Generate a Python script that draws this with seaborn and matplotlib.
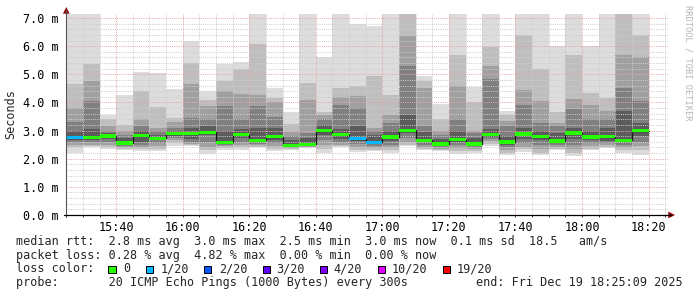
import numpy as np
import pandas as pd
import matplotlib
matplotlib.use("Agg")
import matplotlib.pyplot as plt
import matplotlib.dates as mdates
from matplotlib.patches import Polygon, Rectangle
from matplotlib.lines import Line2D
from matplotlib.ticker import FixedLocator, MultipleLocator
import seaborn as sns

# ---------------- data ----------------
bar_start = pd.date_range("2025-12-19 15:25", "2025-12-19 18:15", freq="5min")

rtt_max = [7.14, 7.14, 3.55, 4.25, 5.08, 5.05, 4.47, 6.20, 4.42, 5.38, 5.45, 7.14, 4.50, 3.65, 7.14, 5.60, 7.14, 6.80, 6.72, 7.14,
           7.14, 4.93, 3.95, 7.14, 4.56, 7.14, 3.70, 7.14, 7.14, 6.00, 7.14, 6.00, 7.14, 7.14, 7.14]
rtt_hi1 = [4.65, 5.35, 3.40, 3.20, 4.42, 3.83, 3.45, 5.42, 4.10, 4.75, 5.20, 6.08, 4.15, 3.22, 4.70, 3.65, 4.52, 4.60, 4.95, 4.25,
           7.14, 4.78, 3.40, 5.70, 4.00, 5.96, 3.55, 6.40, 5.20, 3.65, 5.70, 4.33, 4.17, 7.14, 6.40]
rtt_hi2 = [3.80, 4.75, 3.15, 3.00, 3.40, 3.10, 3.30, 4.65, 3.87, 4.40, 4.30, 4.25, 4.00, 2.95, 4.10, 3.55, 4.20, 4.23, 3.10, 3.57,
           6.35, 4.50, 3.00, 4.60, 3.00, 5.30, 3.35, 4.46, 4.05, 3.27, 4.13, 3.90, 3.70, 5.70, 5.60]
rtt_hi3 = [3.30, 4.05, 3.00, 2.85, 3.18, 3.00, 3.10, 3.45, 3.40, 3.87, 3.40, 3.87, 3.50, 2.80, 2.90, 3.40, 3.90, 3.80, 2.98, 3.27,
           5.30, 3.15, 2.85, 3.40, 2.90, 4.82, 3.15, 3.90, 3.27, 3.15, 3.75, 3.40, 3.40, 4.50, 4.05]
rtt_hi4 = [3.00, 3.05, 2.90, 2.75, 3.00, 2.85, 3.00, 3.10, 3.15, 3.00, 3.05, 3.10, 3.10, 2.65, 2.75, 3.20, 3.05, 3.15, 2.85, 3.00,
           3.55, 2.95, 2.70, 3.00, 2.75, 3.05, 2.80, 3.10, 3.00, 2.90, 3.10, 3.00, 3.10, 3.70, 3.27]
rtt_median = [2.75, 2.76, 2.81, 2.56, 2.83, 2.72, 2.89, 2.89, 2.94, 2.58, 2.85, 2.66, 2.79, 2.48, 2.51, 2.99, 2.86, 2.71, 2.58, 2.77,
              3.01, 2.66, 2.52, 2.67, 2.52, 2.86, 2.59, 2.88, 2.79, 2.63, 2.91, 2.77, 2.79, 2.65, 3.00]
rtt_lo4 = [2.68, 2.68, 2.70, 2.50, 2.60, 2.65, 2.82, 2.70, 2.85, 2.52, 2.72, 2.60, 2.65, 2.45, 2.48, 2.85, 2.70, 2.62, 2.52, 2.62,
           2.90, 2.58, 2.48, 2.60, 2.48, 2.78, 2.50, 2.70, 2.65, 2.55, 2.70, 2.65, 2.62, 2.60, 2.80]
rtt_lo3 = [2.60, 2.60, 2.60, 2.45, 2.50, 2.55, 2.75, 2.60, 2.60, 2.48, 2.60, 2.53, 2.55, 2.42, 2.45, 2.65, 2.58, 2.52, 2.45, 2.50,
           2.75, 2.50, 2.42, 2.48, 2.42, 2.70, 2.40, 2.55, 2.50, 2.48, 2.50, 2.55, 2.55, 2.50, 2.60]
rtt_lo2 = [2.50, 2.50, 2.50, 2.40, 2.40, 2.45, 2.65, 2.52, 2.40, 2.44, 2.50, 2.48, 2.45, 2.38, 2.42, 2.50, 2.50, 2.42, 2.38, 2.40,
           2.60, 2.42, 2.36, 2.38, 2.35, 2.62, 2.30, 2.42, 2.35, 2.40, 2.35, 2.45, 2.48, 2.40, 2.45]
rtt_lo1 = [2.40, 2.45, 2.42, 2.35, 2.33, 2.35, 2.55, 2.48, 2.30, 2.38, 2.40, 2.43, 2.35, 2.35, 2.40, 2.35, 2.46, 2.32, 2.32, 2.30,
           2.50, 2.35, 2.30, 2.28, 2.28, 2.52, 2.20, 2.33, 2.22, 2.34, 2.20, 2.36, 2.42, 2.30, 2.30]
rtt_min = [2.20, 2.40, 2.35, 2.30, 2.26, 2.27, 2.45, 2.44, 2.18, 2.32, 2.30, 2.40, 2.27, 2.32, 2.38, 2.20, 2.42, 2.25, 2.28, 2.22,
           2.44, 2.30, 2.26, 2.18, 2.22, 2.44, 2.12, 2.25, 2.12, 2.30, 2.10, 2.30, 2.38, 2.22, 2.15]
loss_count = [1, 0, 0, 0, 0, 0, 0, 0, 0, 0, 0, 0, 0, 0, 0, 0, 0, 1, 1, 0,
              0, 0, 0, 0, 0, 0, 0, 0, 0, 0, 0, 0, 0, 0, 0]

loss_steps = [0, 1, 2, 3, 4, 10, 19]
loss_labels = ["0", "1/20", "2/20", "3/20", "4/20", "10/20", "19/20"]
loss_colors = ["#26ff00", "#00b8ff", "#0059ff", "#5e00ff", "#7e00ff", "#dd00ff", "#ff0000"]

ytick_vals = [0, 1, 2, 3, 4, 5, 6, 7]
ytick_labels = ["0.0 m", "1.0 m", "2.0 m", "3.0 m", "4.0 m", "5.0 m", "6.0 m", "7.0 m"]

legend_rtt = "median rtt:  2.8 ms avg  3.0 ms max  2.5 ms min  3.0 ms now  0.1 ms sd  18.5   am/s"
legend_loss = "packet loss: 0.28 % avg  4.82 % max  0.00 % min  0.00 % now"
legend_color = "loss color:"
legend_probe = "probe:       20 ICMP Echo Pings (1000 Bytes) every 300s"
legend_end = "end: Fri Dec 19 18:25:09 2025"
watermark = "RRDTOOL / TOBI OETIKER"

# ---------------- style ----------------
sns.set_theme(style="white")
plt.rcParams["font.family"] = ["DejaVu Sans Mono", "DejaVu Sans"]
FS = 8.45

W, H = 697, 297
fig = plt.figure(figsize=(W / 100, H / 100), dpi=100)
fig.patch.set_facecolor("white")

def fx(px):
    return px / W

def fy(py):
    return 1 - py / H

X0, X1, Y0, Y1 = 66.3, 667.8, 215.0, 14.4
ax = fig.add_axes([fx(X0), fy(Y0), (X1 - X0) / W, (Y0 - Y1) / H])
ax.set_facecolor("white")

t = mdates.date2num(bar_start.to_pydatetime())
bw = 5 / 1440.0

bands = [
    (rtt_min, rtt_max, "#dcdcdc"),
    (rtt_lo1, rtt_hi1, "#bebebe"),
    (rtt_lo2, rtt_hi2, "#a0a0a0"),
    (rtt_lo3, rtt_hi3, "#808080"),
    (rtt_lo4, rtt_hi4, "#5c5c5c"),
]
for lo, hi, col in bands:
    lo = np.asarray(lo)
    hi = np.asarray(hi)
    ax.bar(t, hi - lo, bottom=lo, width=bw, align="edge", color=col,
           linewidth=0, zorder=1)

# median step line
med = np.asarray(rtt_median)
xs = np.r_[t, t[-1] + bw]
ys = np.r_[med, med[-1]]
sns.lineplot(x=xs, y=ys, drawstyle="steps-post", color="#1a1a1a", lw=0.9,
             ax=ax, zorder=3, estimator=None, sort=False)

# median coloured by loss
cmap = dict(zip(loss_steps, loss_colors))
mcols = [cmap[c] for c in loss_count]
ax.bar(t, 0.115, bottom=med - 0.057, width=bw, align="edge", color=mcols,
       linewidth=0, zorder=4)

# axes limits / ticks
start = mdates.date2num(pd.Timestamp("2025-12-19 15:25").to_pydatetime())
ax.set_xlim(start, start + 180.8 / 1440)
ax.set_ylim(0, 7.13)
ax.yaxis.set_major_locator(FixedLocator(ytick_vals))
ax.set_yticklabels(ytick_labels)
ax.yaxis.set_minor_locator(MultipleLocator(0.2))
ax.xaxis.set_major_locator(mdates.MinuteLocator(byminute=[0, 20, 40]))
ax.xaxis.set_minor_locator(mdates.MinuteLocator(byminute=range(0, 60, 5)))
ax.xaxis.set_major_formatter(mdates.DateFormatter("%H:%M"))
ax.set_xlabel("")
ax.set_ylabel("")

ax.set_axisbelow(False)
ax.grid(which="major", color="#e8a8a8", linestyle=(0, (1, 1.2)), linewidth=0.72)
ax.grid(which="minor", color="#cdcdcd", linestyle=(0, (1, 1.2)), linewidth=0.72)

ax.tick_params(axis="y", which="both", length=0, pad=5.2, labelsize=FS, colors="#000000")
ax.tick_params(axis="x", which="both", length=1.6, width=0.72, color="#404040",
               pad=2.5, labelsize=FS, labelcolor="#000000", bottom=True)
for lab in ax.get_xticklabels() + ax.get_yticklabels():
    lab.set_family("DejaVu Sans Mono")

for s in ["top", "right", "left", "bottom"]:
    ax.spines[s].set_visible(False)

# axis lines with arrows (figure pixel coords)
def P(px, py):
    return (fx(px), fy(py))

fig.add_artist(Line2D([fx(X0), fx(X0)], [fy(Y0 + 2), fy(10)], color="#555555", lw=0.8))
fig.add_artist(Line2D([fx(X0 - 2), fx(671)], [fy(Y0), fy(Y0)], color="black", lw=0.9))
fig.add_artist(Polygon([P(X0 - 3, 13.5), P(X0 + 3, 13.5), P(X0, 7.5)], closed=True,
                       facecolor="#8b0000", edgecolor="#8b0000", lw=0.3))
fig.add_artist(Polygon([P(668.5, Y0 - 3), P(668.5, Y0 + 3), P(674.5, Y0)], closed=True,
                       facecolor="#8b0000", edgecolor="#8b0000", lw=0.3))

# y label
fig.text(fx(11), fy(114), "Seconds", rotation=90, ha="center", va="center",
         fontsize=FS, family="DejaVu Sans Mono")

# watermark
fig.text(fx(688), fy(5), watermark, rotation=270, ha="center", va="top",
         fontsize=6.2, color="#b4b4b4", family="DejaVu Sans Mono")

# legend
fig.text(fx(16), fy(241.7), legend_rtt, ha="left", va="center", fontsize=FS)
fig.text(fx(16), fy(255.2), legend_loss, ha="left", va="center", fontsize=FS)
fig.text(fx(16), fy(269.0), legend_color, ha="left", va="center", fontsize=FS)
fig.text(fx(16), fy(282.8), legend_probe, ha="left", va="center", fontsize=FS)
fig.text(fx(476.5), fy(282.8), legend_end, ha="left", va="center", fontsize=FS)

box_x = [108.3, 145.6, 204.0, 262.7, 319.8, 378.0, 442.8]
text_x = [123.3, 161.0, 219.2, 276.6, 333.5, 391.5, 456.3]
for bx, tx, col, lab in zip(box_x, text_x, loss_colors, loss_labels):
    fig.add_artist(Rectangle((fx(bx), fy(273.4)), 7.2 / W, 7.8 / H,
                             facecolor=col, edgecolor="black", lw=0.72))
    fig.text(fx(tx), fy(269.0), lab, ha="left", va="center", fontsize=FS)

fig.savefig("out.png", dpi=100, facecolor="white")
